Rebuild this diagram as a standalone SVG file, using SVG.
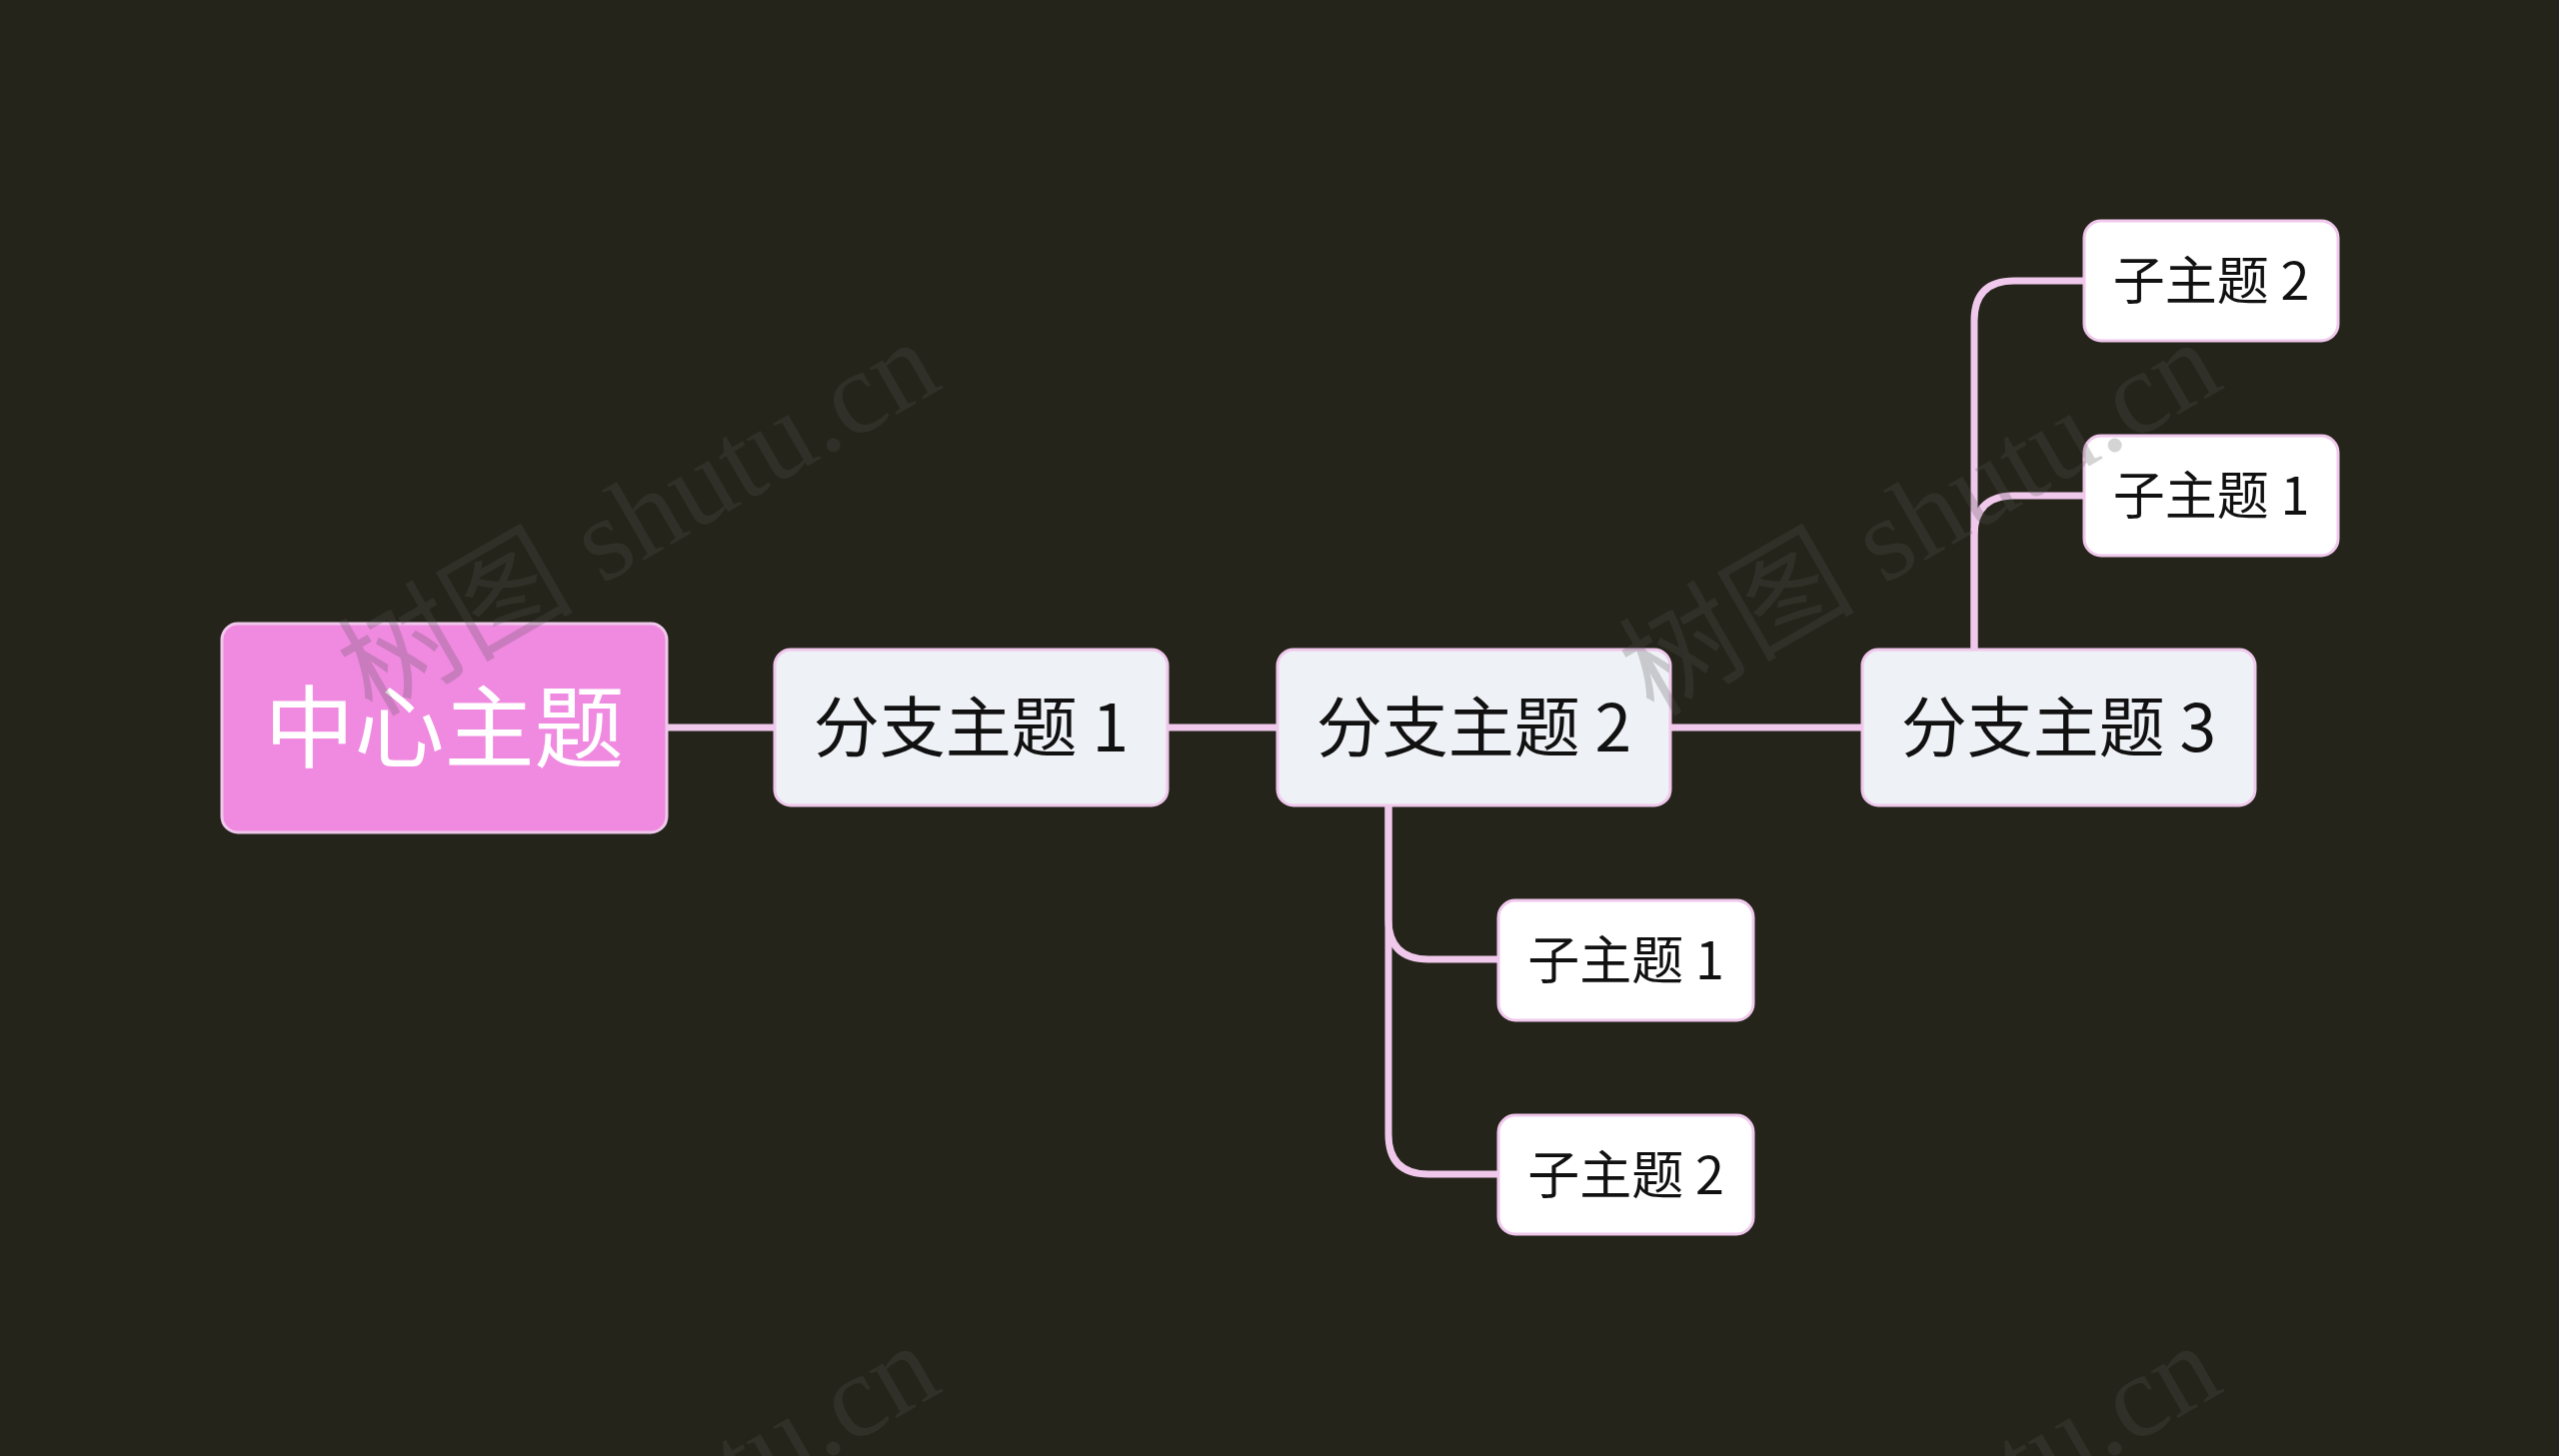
<svg xmlns="http://www.w3.org/2000/svg" width="2560" height="1457" viewBox="0 0 2560 1457">
<style>
.bg{fill:#24241a}
.conn{fill:none;stroke:#f0c8ec;stroke-width:7;stroke-linecap:butt}
.node rect{stroke:#f0c8ec;stroke-width:3}
.central rect{fill:#f08ae0}
.branch rect{fill:#eef1f5}
.sub rect{fill:#ffffff}
.t{font-family:"Noto Sans CJK SC","Noto Sans",sans-serif;text-anchor:middle}
.central .t{fill:#ffffff;font-size:90px}
.branch .t{fill:#111111;font-size:66px}
.sub .t{fill:#111111;font-size:52px}
.wm{font-family:"Liberation Serif","Noto Sans CJK SC",serif;font-size:118px;fill:#555555;fill-opacity:0.25}
</style>
<rect class="bg" x="0" y="0" width="2560" height="1457"/>
<g id="connectors">
<path class="conn" d="M667,728 H775"/>
<path class="conn" d="M1168,728 H1278"/>
<path class="conn" d="M1671,728 H1863"/>
<path class="conn" d="M1975,650 V321 Q1975,281 2015,281 H2085"/>
<path class="conn" d="M1975,650 V536 Q1975,496 2015,496 H2085"/>
<path class="conn" d="M1389,806 V920 Q1389,960 1429,960 H1499"/>
<path class="conn" d="M1389,806 V1135 Q1389,1175 1429,1175 H1499"/>
</g>
<g id="central" class="node central">
<rect x="222" y="624" width="445" height="209" rx="16"/>
<text class="t" x="444.5" y="761">中心主题</text>
</g>
<g id="branch1" class="node branch">
<rect x="775" y="650" width="393" height="156" rx="16"/>
<text class="t" x="971.5" y="752">分支主题 1</text>
</g>
<g id="branch2" class="node branch">
<rect x="1278" y="650" width="393" height="156" rx="16"/>
<text class="t" x="1474.5" y="752">分支主题 2</text>
</g>
<g id="branch3" class="node branch">
<rect x="1863" y="650" width="393" height="156" rx="16"/>
<text class="t" x="2059.5" y="752">分支主题 3</text>
</g>
<g id="b3sub2" class="node sub">
<rect x="2085" y="221" width="254" height="120" rx="17"/>
<text class="t" x="2212" y="300">子主题 2</text>
</g>
<g id="b3sub1" class="node sub">
<rect x="2085" y="436" width="254" height="120" rx="17"/>
<text class="t" x="2212" y="515">子主题 1</text>
</g>
<g id="b2sub1" class="node sub">
<rect x="1499" y="901" width="255" height="120" rx="17"/>
<text class="t" x="1626.5" y="980">子主题 1</text>
</g>
<g id="b2sub2" class="node sub">
<rect x="1499" y="1116" width="255" height="119" rx="17"/>
<text class="t" x="1626.5" y="1195">子主题 2</text>
</g>
<g id="watermarks">
<text class="wm" transform="translate(372,718) rotate(-30)">树图 shutu.cn</text>
<text class="wm" transform="translate(1654,718) rotate(-30)">树图 shutu.cn</text>
<text class="wm" transform="translate(372,1722) rotate(-30)">树图 shutu.cn</text>
<text class="wm" transform="translate(1654,1722) rotate(-30)">树图 shutu.cn</text>
</g>
</svg>
